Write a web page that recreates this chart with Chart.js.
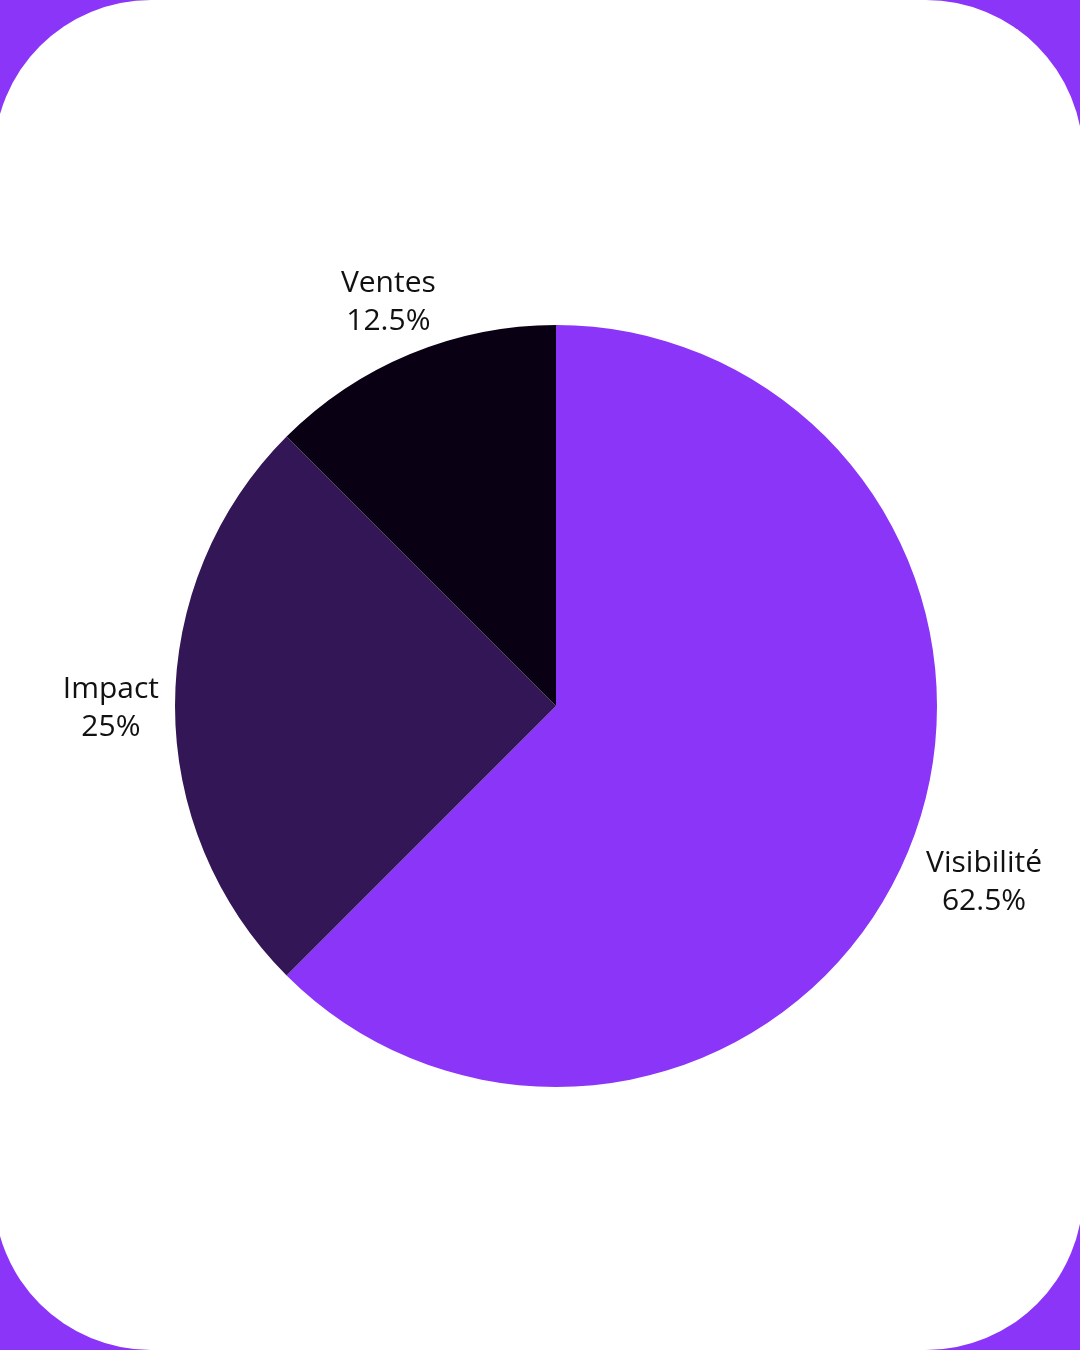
<!DOCTYPE html>
<html>
<head>
<meta charset="utf-8">
<script src="https://cdn.jsdelivr.net/npm/chart.js@4"></script>
<style>
  html, body { margin: 0; padding: 0; }
  body { width: 1080px; height: 1350px; background: #8A35F8; position: relative; overflow: hidden; }
  #card { position: absolute; left: -6px; top: 0; width: 1089px; height: 1350px; background: #ffffff; border-radius: 157px; }
  #wrap { position: absolute; left: 0; top: 0; width: 1080px; height: 1350px; }
</style>
</head>
<body>
<div id="card"></div>
<div id="wrap"><canvas id="c" width="1080" height="1350"></canvas></div>
<script>
const categories = ["Visibilité", "Impact", "Ventes"];
const values = [62.5, 25, 12.5];
const valueLabels = ["62.5%", "25%", "12.5%"];
const sliceColors = ["#8A35F8", "#331655", "#0A0014"];

const outsideLabels = {
  id: "outsideLabels",
  afterDatasetsDraw(chart) {
    const ctx = chart.ctx;
    const meta = chart.getDatasetMeta(0);
    const fontSize = 30;
    const lh = 38;
    const off = 20;
    ctx.save();
    ctx.font = fontSize + "px 'Open Sans'";
    ctx.fillStyle = "#111111";
    ctx.textAlign = "center";
    ctx.textBaseline = "middle";
    meta.data.forEach((arc, i) => {
      const p = arc.getProps(["x", "y", "startAngle", "endAngle", "outerRadius"], true);
      const mid = (p.startAngle + p.endAngle) / 2;
      const ux = Math.cos(mid), uy = Math.sin(mid);
      const lines = [chart.data.labels[i], valueLabels[i]];
      const w = Math.max(...lines.map(l => ctx.measureText(l).width));
      const h = lines.length * lh;
      const ax = p.x + (p.outerRadius + off) * ux;
      const ay = p.y + (p.outerRadius + off) * uy;
      const cx = ax + (w / 2) * ux + 4;
      const cy = ay + (h / 2) * uy + (uy > 0.1 ? 8 : 2);
      lines.forEach((l, j) => {
        ctx.fillText(l, cx, cy - h / 2 + lh / 2 + j * lh);
      });
    });
    ctx.restore();
  }
};

new Chart(document.getElementById("c"), {
  type: "pie",
  data: {
    labels: categories,
    datasets: [{
      data: values,
      backgroundColor: sliceColors,
      borderWidth: 0
    }]
  },
  options: {
    responsive: false,
    animation: false,
    layout: { padding: { left: 175, right: 143, top: 325, bottom: 263 } },
    plugins: { legend: { display: false }, tooltip: { enabled: false } }
  },
  plugins: [outsideLabels]
});
</script>
</body>
</html>
